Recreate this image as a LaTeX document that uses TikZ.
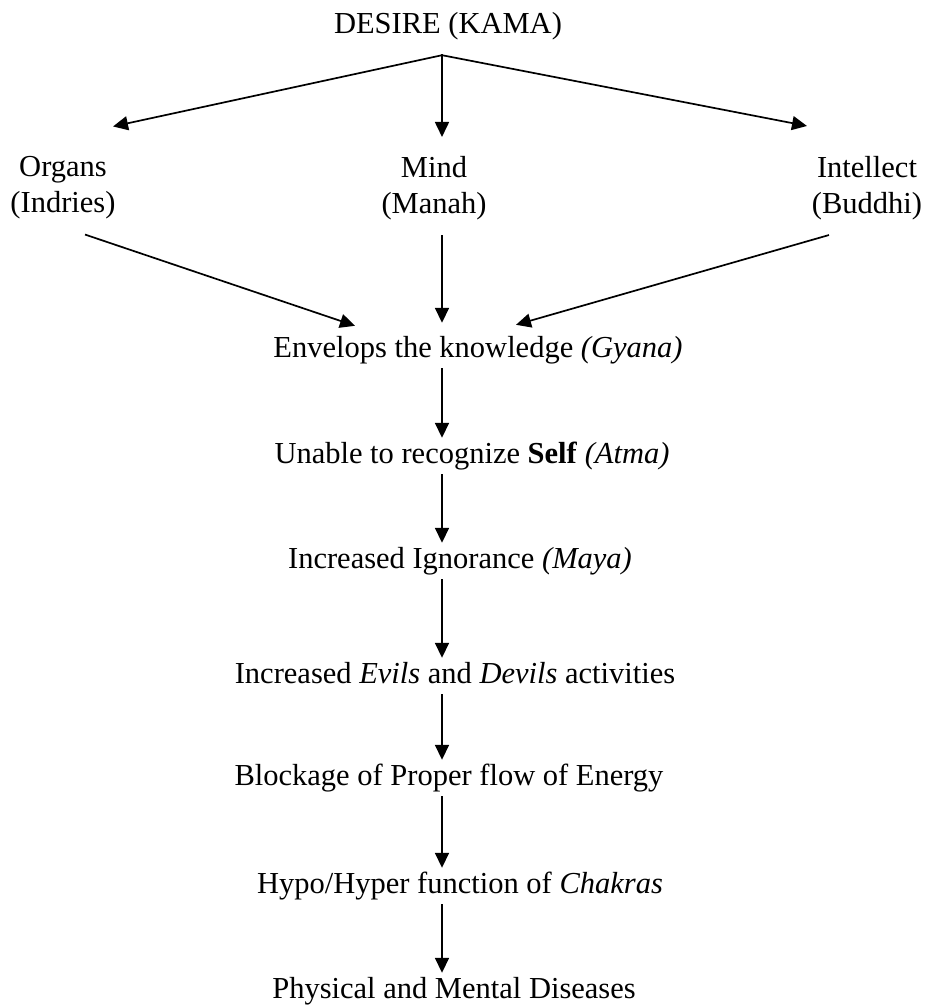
\documentclass[tikz,border=0pt]{standalone}
\usepackage{fontspec}
\setmainfont{Liberation Serif}
\usetikzlibrary{arrows.meta, calc, positioning}

\tikzset{
	label/.style={inner sep=4pt, text height=21pt, text depth=7pt, font=\fontsize{30.5}{36}\selectfont},
	pair/.style={inner sep=4pt, align=center, font=\fontsize{30.5}{36}\selectfont},
	flow/.style={line width=1.7pt, -{Triangle[length=15pt,width=14pt]}}
}

\begin{document}
\begin{tikzpicture}[x=1pt, y=-1pt]
		\useasboundingbox (0,0) rectangle (928,1007);
		% top level
		\node[label, anchor=base] (desire) at (448,33) {DESIRE (KAMA)};
		\coordinate (apex) at ($(desire.south)+(-6,11)$);
		\node[pair] (organs) at (63,188) {Organs\\(Indries)};
		\node[pair] (mind) at (434,188) {Mind\\(Manah)};
		\node[pair] (intellect) at (867,188) {Intellect\\(Buddhi)};
		\draw[line width=1.7pt] ($(apex)+(-0.8,0)$) -- ($(apex)+(0.8,0)$);
		\draw[flow] (apex) -- ($(organs.north)+(50,-26)$);
		\draw[flow] (apex) -- ($(mind.north)+(8,-15)$);
		\draw[flow] (apex) -- ($(intellect.north)+(-60,-26)$);
		% chain
		\node[label, anchor=base] (envelops) at (478,357) {Envelops the knowledge \textit{(Gyana)}};
		\node[label, anchor=base] (unable) at (472,463) {Unable to recognize \textbf{Self} \textit{(Atma)}};
		\node[label, anchor=base] (ignorance) at (460,568) {Increased Ignorance \textit{(Maya)}};
		\node[label, anchor=base] (evils) at (455,683) {Increased \textit{Evils} and \textit{Devils} activities};
		\node[label, anchor=base] (blockage) at (449,785) {Blockage of Proper flow of Energy};
		\node[label, anchor=base] (hypo) at (460,893) {Hypo/Hyper function of \textit{Chakras}};
		\node[label, anchor=base] (diseases) at (454,998) {Physical and Mental Diseases};
		\draw[flow] ($(organs.south)+(22,11)$) -- ($(envelops.north)+(-123,-6)$);
		\draw[flow] ($(mind.south)+(8,11)$) -- ($(envelops.north)+(-36,-9)$);
		\draw[flow] ($(intellect.south)+(-38,11)$) -- ($(envelops.north)+(38,-7)$);
		\foreach \a/\b in {envelops/unable, unable/ignorance, ignorance/evils, evils/blockage, blockage/hypo, hypo/diseases}
			\draw[flow] (\a.south -| apex) -- (\b.north -| apex);
\end{tikzpicture}
\end{document}
